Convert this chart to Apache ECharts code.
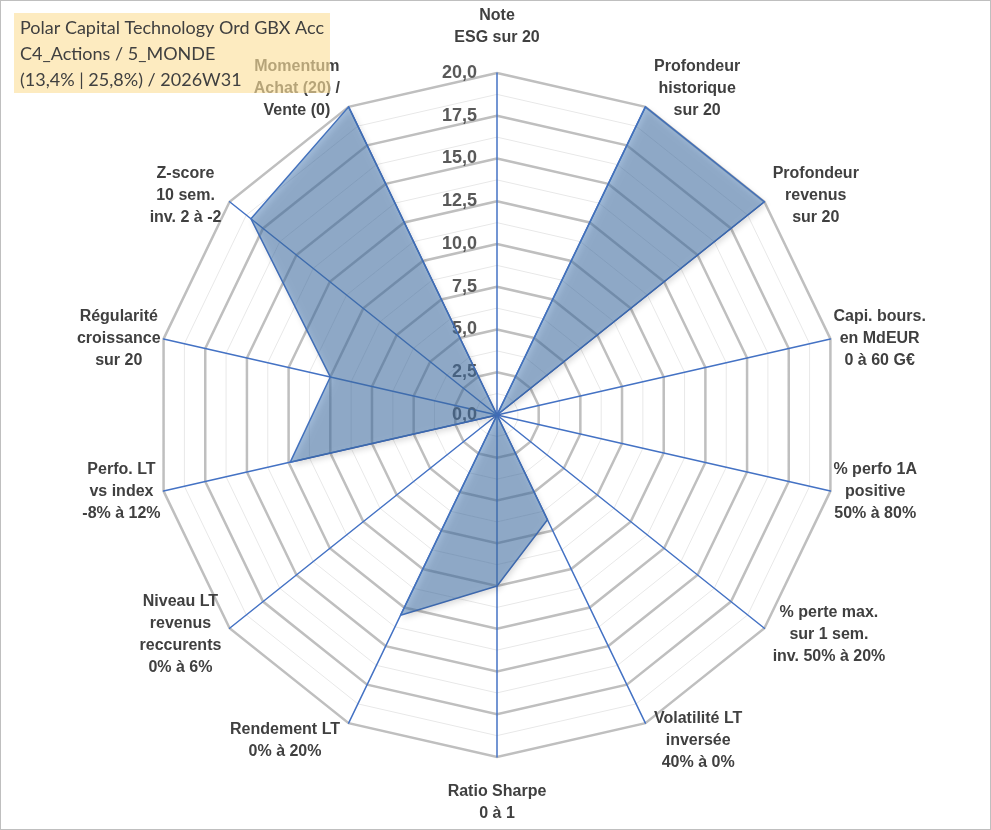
<!DOCTYPE html>
<html>
<head>
<meta charset="utf-8">
<script src="https://cdn.jsdelivr.net/npm/echarts@6/dist/echarts.min.js"></script>
<style>
  html, body { margin: 0; padding: 0; background: #fff; }
  #radar { width: 991px; height: 830px; box-sizing: border-box; border: 1px solid #bfbfbf; }
</style>
</head>
<body>
<div id="radar"></div>
<script>
// axes, clockwise from the top, as in the picture
var axisNames = [
  'Note\nESG sur 20',
  'Profondeur\nhistorique\nsur 20',
  'Profondeur\nrevenus\nsur 20',
  'Capi. bours.\nen MdEUR\n0 à 60 G€',
  '% perfo 1A\npositive\n50% à 80%',
  '% perte max.\nsur 1 sem.\ninv. 50% à 20%',
  'Volatilité LT\ninversée\n40% à 0%',
  'Ratio Sharpe\n0 à 1',
  'Rendement LT\n0% à 20%',
  'Niveau LT\nrevenus\nreccurents\n0% à 6%',
  'Perfo. LT\nvs index\n-8% à 12%',
  'Régularité\ncroissance\nsur 20',
  'Z-score\n10 sem.\ninv. 2 à -2',
  'Momentum\nAchat (20) /\nVente (0)'
];
var scores = [0, 20, 20, 0, 0, 0, 6.8, 10, 13, 0, 12.4, 10, 18.4, 20];
var axisMax = 20;
var titleLines = [
  'Polar Capital Technology Ord GBX Acc',
  'C4_Actions / 5_MONDE',
  '(13,4% | 25,8%) / 2026W31'
];

// echarts lays indicators out counter-clockwise, so keep the first and reverse the rest
function ccw(arr) {
  return [arr[0]].concat(arr.slice(1).reverse());
}

var names = ccw(axisNames);
var values = ccw(scores);
var n = names.length;

// the original plot is a bit taller than wide: push top/bottom names further out
function gapFor(i) {
  var c = Math.cos(i * 2 * Math.PI / n);
  return 2 + 22 * c * c;
}

var mainIndicators = names.map(function (name, i) {
  var ind = { name: name, max: axisMax, min: 0, nameGap: gapFor(i) };
  if (i === 0) ind.axisLabel = { show: true };
  return ind;
});
var minorIndicators = names.map(function () {
  return { name: '', max: axisMax, min: 0 };
});

var chart = echarts.init(document.getElementById('radar'));

var option = {
  animation: false,
  title: {
    text: titleLines.join('\n'),
    left: 13,
    top: 12,
    padding: [2, 6, 0, 6],
    backgroundColor: 'rgba(252,223,155,0.63)',
    z: 10,
    textStyle: {
      fontFamily: 'Lato',
      fontSize: 18,
      fontWeight: 'normal',
      color: '#404040',
      lineHeight: 26
    }
  },
  radar: [
    {
      center: [496, 414],
      radius: 342,
      splitNumber: 16,
      shape: 'polygon',
      indicator: minorIndicators,
      axisName: { show: false },
      axisLine: { show: false },
      splitArea: { show: false },
      splitLine: { lineStyle: { color: '#e8e8e8', width: 1 } }
    },
    {
      center: [496, 414],
      radius: 342,
      splitNumber: 8,
      shape: 'polygon',
      indicator: mainIndicators,
      nameGap: 12,
      axisName: {
        color: '#404040',
        fontFamily: 'Liberation Sans',
        fontWeight: 'bold',
        fontSize: 16,
        lineHeight: 22,
        formatter: function (v) {
          return v.split('\n').map(function (l) { return '{c|' + l + '}'; }).join('\n');
        },
        rich: {
          c: {
            align: 'center',
            color: '#404040',
            fontFamily: 'Liberation Sans',
            fontWeight: 'bold',
            fontSize: 16,
            lineHeight: 22
          }
        }
      },
      axisLabel: {
        show: false,
        margin: 20,
        color: '#595959',
        fontFamily: 'Liberation Sans',
        fontWeight: 'bold',
        fontSize: 18,
        formatter: function (v) { return v.toFixed(1).replace('.', ','); }
      },
      axisLine: { lineStyle: { color: '#4472c4', width: 1.5 } },
      splitArea: { show: false },
      splitLine: { lineStyle: { color: '#bfbfbf', width: 2.5 } }
    }
  ],
  series: [
    {
      type: 'radar',
      radarIndex: 1,
      symbol: 'none',
      lineStyle: { color: '#4472c4', width: 1.5 },
      areaStyle: {
        color: 'rgba(70,120,180,0.72)',
        shadowBlur: 6,
        shadowOffsetX: 2,
        shadowOffsetY: 3,
        shadowColor: 'rgba(0,0,0,0.3)'
      },
      data: [{ value: values, name: 'Score' }]
    }
  ]
};

chart.setOption(option);

window.onresize = function () {
  chart.resize();
};
</script>
</body>
</html>
